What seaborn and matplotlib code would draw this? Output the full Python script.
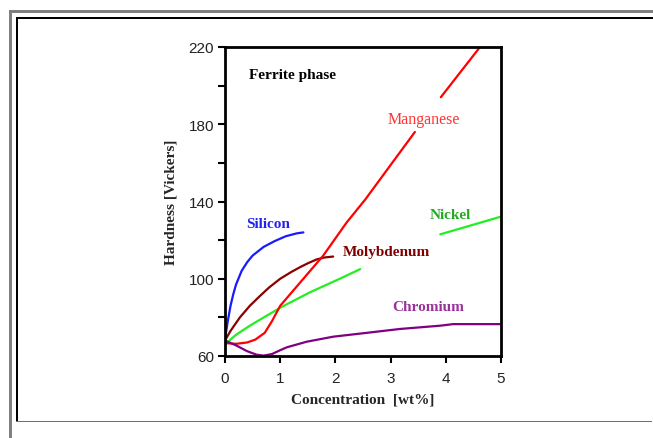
import matplotlib
matplotlib.use("Agg")
import matplotlib.pyplot as plt
import seaborn as sns
import pandas as pd
from matplotlib.patches import Rectangle

# ---- data ----
silicon_x = [0.0, 0.05, 0.1, 0.15, 0.2, 0.3, 0.4, 0.5, 0.7, 0.9, 1.1, 1.3, 1.42]
silicon_y = [68.8, 78, 86, 92, 97, 104, 108.5, 112, 116.5, 119.5, 122, 123.5, 124]

molyb_x = [0.0, 0.1, 0.27, 0.45, 0.63, 0.8, 1.0, 1.2, 1.36, 1.5, 1.66, 1.8, 1.96]
molyb_y = [68, 73, 80, 86, 91, 95.5, 100, 103.5, 106, 108, 110, 111, 111.5]

nickel1_x = [0.0, 0.2, 0.45, 1.0, 1.54, 2.08, 2.45]
nickel1_y = [66, 71, 75.7, 85, 93, 100, 105]
nickel2_x = [3.9, 4.98]
nickel2_y = [123, 132]

mangan1_x = [0.0, 0.2, 0.4, 0.55, 0.72, 0.85, 1.0, 1.36, 1.78, 2.2, 2.54, 3.44]
mangan1_y = [66.7, 66.3, 67, 68.5, 72, 78, 86, 98, 112, 129, 141, 176]
mangan2_x = [3.91, 4.62]
mangan2_y = [194, 220]

chrom_x = [0.0, 0.2, 0.4, 0.57, 0.7, 0.85, 1.0, 1.12, 1.48, 1.96, 2.57, 3.17,
           3.9, 4.13, 4.98]
chrom_y = [68, 65.5, 62.5, 60.7, 60.2, 61, 63, 64.5, 67.4, 70, 72, 74,
           75.7, 76.5, 76.5]

x_ticks = [0, 1, 2, 3, 4, 5]
y_major = [60, 100, 140, 180, 220]
y_minor = [80, 120, 160, 200]

series = [
    (silicon_x, silicon_y, "#1a1aff"),
    (molyb_x, molyb_y, "#8b0000"),
    (nickel1_x, nickel1_y, "#22ee22"),
    (nickel2_x, nickel2_y, "#22ee22"),
    (mangan1_x, mangan1_y, "#ff0000"),
    (mangan2_x, mangan2_y, "#ff0000"),
    (chrom_x, chrom_y, "#800080"),
]

sns.set_style("white")
plt.rcParams["font.family"] = ["Liberation Sans", "DejaVu Sans"]

W, H = 653, 439
fig = plt.figure(figsize=(W / 100, H / 100), dpi=100)
ax = fig.add_axes([225 / W, 1 - 357 / H, (501 - 225) / W, (357 - 48) / H])

for xs, ys, col in series:
    df = pd.DataFrame({"x": xs, "y": ys})
    sns.lineplot(data=df, x="x", y="y", sort=False, estimator=None,
                 color=col, lw=1.6, ax=ax)

ax.set_xlim(0, 5)
ax.set_ylim(60, 220)
ax.set_xticks(x_ticks)
ax.set_xticklabels([str(t) for t in x_ticks])
ax.set_yticks(y_major)
ax.set_yticklabels([str(t) for t in y_major])
ax.set_yticks(y_minor, minor=True)
ax.tick_params(axis="both", which="both", direction="out", length=5,
               width=1.5, color="black", labelsize=11, labelcolor="#222222",
               left=True, bottom=True)
ax.tick_params(axis="y", which="minor", length=5, width=1.5)
ax.tick_params(axis="x", pad=6)
ax.tick_params(axis="y", pad=3)
for s in ax.spines.values():
    s.set_visible(True)
    s.set_color("black")
    s.set_linewidth(2)

ax.set_xlabel("Concentration  [wt%]", family="Liberation Serif",
              fontweight="bold", fontsize=11, labelpad=5)
ax.set_ylabel("Hardness [Vickers]", family="Liberation Serif",
              fontweight="bold", fontsize=11, labelpad=8)

serif = "Liberation Serif"
ax.text(0.43, 206, "Ferrite phase", family=serif, fontweight="bold",
        fontsize=11, color="black", va="center", ha="left")
ax.text(0.39, 128.5, "Silicon", family=serif, fontweight="bold",
        fontsize=11, color="#2222ee", va="center", ha="left")
ax.text(2.14, 114, "Molybdenum", family=serif, fontweight="bold",
        fontsize=11, color="#800000", va="center", ha="left")
ax.text(3.71, 133.5, "Nickel", family=serif, fontweight="bold",
        fontsize=11, color="#22aa22", va="center", ha="left")
ax.text(2.94, 182.5, "Manganese", family=serif,
        fontsize=11.5, color="#ff3333", va="center", ha="left")
ax.text(3.03, 85.5, "Chromium", family=serif, fontweight="bold",
        fontsize=11, color="#993399", va="center", ha="left")

# ---- frame around the figure (pixel coordinates) ----
def px_rect(x0, y0, x1, y1, color):
    fig.add_artist(Rectangle((x0 / W, 1 - y1 / H), (x1 - x0) / W, (y1 - y0) / H,
                             transform=fig.transFigure, facecolor=color,
                             edgecolor="none", zorder=10))

px_rect(9, 11, 12, 439, "#808080")      # outer gray left bar
px_rect(9, 11, 653, 14, "#808080")      # outer gray top bar
px_rect(16, 18, 17.5, 423, "black")     # inner left line
px_rect(16, 18, 653, 19.5, "black")     # inner top line
px_rect(16, 421.5, 652, 423, "#707070") # inner bottom line

fig.savefig("out.png", dpi=100)
